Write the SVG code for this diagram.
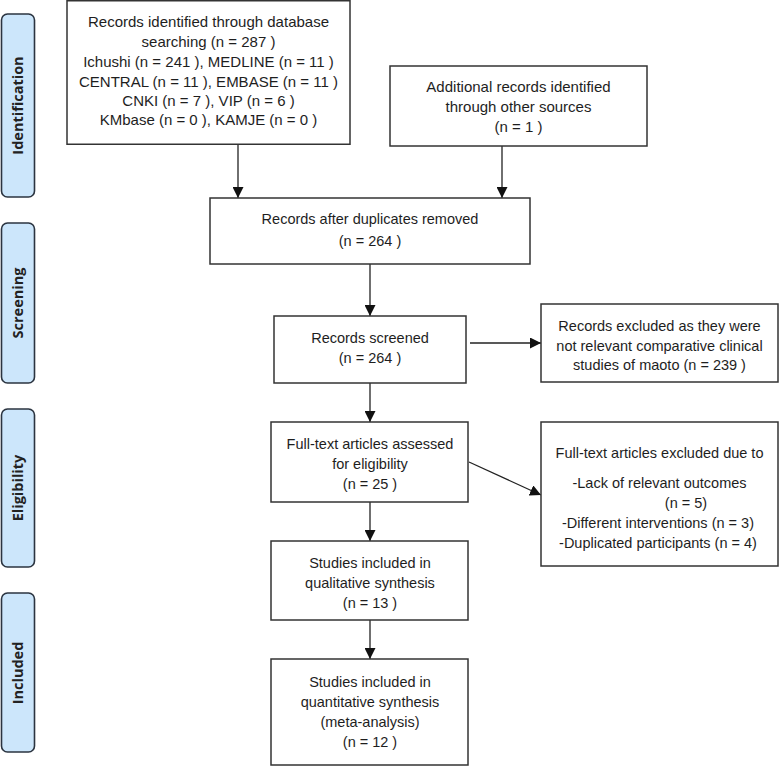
<svg xmlns="http://www.w3.org/2000/svg" width="779" height="766" viewBox="0 0 779 766">
<defs>
<style>
.box{fill:#fff;stroke:#333;stroke-width:1.5}
.side{fill:#cce6fb;stroke:#2b3440;stroke-width:1.6}
.t{font-family:"Liberation Sans",Arial,sans-serif;font-size:14.5px;fill:#1e1e1e;text-anchor:middle}
.t15{font-size:15px}
.s{font-family:"Open Sans","Liberation Sans",sans-serif;font-size:14.5px;font-weight:700;fill:#222;text-anchor:middle}
.c{stroke:#222;stroke-width:1.3;fill:none;marker-end:url(#ah)}
</style>
<marker id="ah" viewBox="0 0 10 10" refX="10" refY="5" markerWidth="11" markerHeight="11" markerUnits="userSpaceOnUse" orient="auto">
<path d="M0,0 L10,5 L0,10 Z" fill="#111"/>
</marker>
</defs>
<rect width="779" height="766" fill="#fff"/>

<g id="side-identification">
<rect class="side" x="1.5" y="14" width="33" height="183" rx="6"/>
<text class="s" transform="translate(23,105.5) rotate(-90)">Identification</text>
</g>
<g id="side-screening">
<rect class="side" x="1.5" y="223" width="33" height="160" rx="6"/>
<text class="s" transform="translate(23,303) rotate(-90)">Screening</text>
</g>
<g id="side-eligibility">
<rect class="side" x="1.5" y="409" width="33" height="158" rx="6"/>
<text class="s" transform="translate(23,488) rotate(-90)">Eligibility</text>
</g>
<g id="side-included">
<rect class="side" x="1.5" y="593" width="33" height="159" rx="6"/>
<text class="s" transform="translate(23,673) rotate(-90)">Included</text>
</g>

<g id="connectors">
<line class="c" x1="238" y1="144.5" x2="238" y2="198"/>
<line class="c" x1="502" y1="146" x2="502" y2="198"/>
<line class="c" x1="370" y1="264" x2="370" y2="316"/>
<line class="c" x1="470" y1="343" x2="541" y2="343"/>
<line class="c" x1="370" y1="383" x2="370" y2="422"/>
<line class="c" x1="469" y1="462" x2="541" y2="495"/>
<line class="c" x1="370" y1="502" x2="370" y2="541"/>
<line class="c" x1="370" y1="620" x2="370" y2="659"/>
</g>

<g id="n-database">
<rect class="box" x="67" y="0.75" width="283" height="143.5"/>
<text class="t t15" x="208.5" y="27">Records identified through database</text>
<text class="t t15" x="208.5" y="47">searching (n = 287 )</text>
<text class="t t15" x="208.5" y="67">Ichushi (n = 241 ), MEDLINE (n = 11 )</text>
<text class="t t15" x="208.5" y="87">CENTRAL (n = 11 ), EMBASE (n = 11 )</text>
<text class="t t15" x="208.5" y="106">CNKI (n = 7 ), VIP (n = 6 )</text>
<text class="t t15" x="208.5" y="125">KMbase (n = 0 ), KAMJE (n = 0 )</text>
</g>

<g id="n-other">
<rect class="box" x="390" y="66" width="257" height="80"/>
<text class="t t15" x="518.5" y="92">Additional records identified</text>
<text class="t t15" x="518.5" y="112">through other sources</text>
<text class="t t15" x="518.5" y="132">(n = 1 )</text>
</g>

<g id="n-dedup">
<rect class="box" x="210" y="198" width="320" height="66"/>
<text class="t" x="370" y="224">Records after duplicates removed</text>
<text class="t" x="370" y="246">(n = 264 )</text>
</g>

<g id="n-screened">
<rect class="box" x="274" y="316" width="192" height="67"/>
<text class="t" x="370" y="343">Records screened</text>
<text class="t" x="370" y="363">(n = 264 )</text>
</g>

<g id="n-excluded1">
<rect class="box" x="541" y="304" width="237" height="78"/>
<text class="t" x="659.5" y="331">Records excluded as they were</text>
<text class="t" x="659.5" y="351">not relevant comparative clinical</text>
<text class="t" x="659.5" y="370">studies of maoto (n = 239 )</text>
</g>

<g id="n-fulltext">
<rect class="box" x="271" y="422" width="197" height="80"/>
<text class="t" x="370" y="449">Full-text articles assessed</text>
<text class="t" x="370" y="469">for eligibility</text>
<text class="t" x="370" y="489">(n = 25 )</text>
</g>

<g id="n-excluded2">
<rect class="box" x="541" y="422" width="237" height="144"/>
<text class="t" x="659.5" y="458">Full-text articles excluded due to</text>
<text class="t" x="659.5" y="488">-Lack of relevant outcomes</text>
<text class="t" x="686" y="508">(n = 5)</text>
<text class="t" x="658" y="528">-Different interventions (n = 3)</text>
<text class="t" x="658" y="548">-Duplicated participants (n = 4)</text>
</g>

<g id="n-qualitative">
<rect class="box" x="271" y="541" width="197" height="79"/>
<text class="t" x="370" y="568">Studies included in</text>
<text class="t" x="370" y="588">qualitative synthesis</text>
<text class="t" x="370" y="608">(n = 13 )</text>
</g>

<g id="n-quantitative">
<rect class="box" x="271" y="659" width="197" height="106"/>
<text class="t" x="370" y="687">Studies included in</text>
<text class="t" x="370" y="707">quantitative synthesis</text>
<text class="t" x="370" y="727">(meta-analysis)</text>
<text class="t" x="370" y="747">(n = 12 )</text>
</g>
</svg>
